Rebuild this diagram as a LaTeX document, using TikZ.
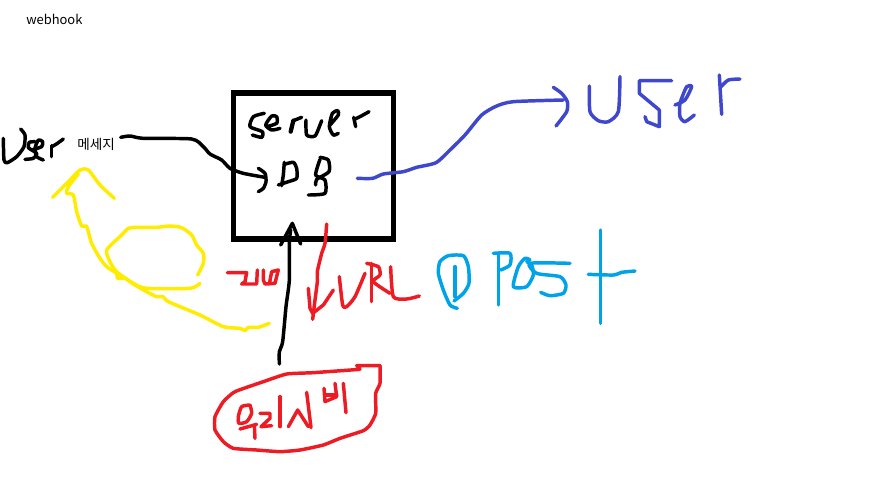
\documentclass[tikz,border=0pt]{standalone}
\usepackage{fontspec}
\newfontfamily\krfont{Noto Sans CJK KR}
\definecolor{inkred}{HTML}{ED1C24}
\definecolor{inkyellow}{HTML}{FFEC00}
\definecolor{inkblue}{HTML}{3F48CC}
\definecolor{inkcyan}{HTML}{00A2E8}
\newcommand{\inkstroke}[2]{\draw[#1] plot[smooth,tension=.4] coordinates {#2};}
\tikzset{
  zoomat/.style 2 args={x=.25pt,y=-.25pt,shift={({#1*.75pt},{-#2*.75pt})}},
  ink/.style={line width=2.6pt,line cap=round,line join=round},
  blackink/.style={ink,black},
  redink/.style={ink,inkred},
  yellowink/.style={ink,inkyellow},
  blueink/.style={ink,inkblue},
  cyanink/.style={ink,inkcyan},
  titlelabel/.style={font=\krfont\fontsize{9.7pt}{11pt}\selectfont,inner sep=0pt,text=black},
  msglabel/.style={font=\krfont\fontsize{10.2pt}{11pt}\selectfont,inner sep=0pt,text=black},
  serverbox/.style={draw=black,line width=4pt,inner sep=0pt,minimum width=119.7pt,minimum height=109.5pt},
}
\begin{document}
\begin{tikzpicture}[x=.75pt,y=-.75pt]
\useasboundingbox (0,0) rectangle (872,494);
\node[titlelabel,anchor=west] (title) at (26,19) {webhook};
\node[msglabel,anchor=west] (msg) at (77,144) {메세지};
\node[serverbox] (server) at (313.5,166) {};

% left handwritten word
\begin{scope}[zoomat={0}{125}]
\inkstroke{blackink}{(62,12) (75,30) (72,65) (50,95) (22,113) (12,105) (10,40)}
\inkstroke{blackink}{(105,50) (88,52) (85,68) (110,85) (100,100) (75,103)}
\inkstroke{blackink}{(95,75) (125,65) (128,50) (115,45) (105,70) (110,95) (130,105)}
\draw[blackink] (155,95)--(155,62);
\inkstroke{blackink}{(155,65) (168,58) (190,42)}
\end{scope}

\begin{scope}[zoomat={0}{80}]
\inkstroke{blackink}{(362,172) (390,168) (430,175) (575,177) (610,200) (630,222) (665,240) (690,265) (730,280) (795,292)}
\inkstroke{blackink}{(775,265) (795,280) (798,305) (790,325) (775,335)}
\inkstroke{yellowink}{(158,352) (205,305) (240,270) (265,270) (300,315) (343,355)}
\inkstroke{yellowink}{(235,282) (205,320) (200,340) (220,345) (230,395) (245,438) (260,440) (275,490) (300,535) (320,560) (350,580) (352,595) (375,595) (400,612) (440,635) (470,650) (490,650) (505,665) (600,705) (670,740) (720,745) (735,752) (745,742) (775,742) (808,730)}
\inkstroke{yellowink}{(593,585) (610,550) (610,520) (590,495) (575,465) (545,443) (510,438) (470,442) (410,442) (385,445) (365,465) (320,510) (330,545) (350,575) (400,610) (440,625) (570,625) (600,610)}
\draw[redink] (682,578)--(740,578)--(735,605)--(725,612)--(770,612)--(772,570);
\draw[redink] (790,570)--(790,600)--(795,612)--(825,610)--(835,570)--(815,575)--(808,612);
\end{scope}

% server text
\begin{scope}[zoomat={245}{100}]
\inkstroke{blackink}{(58,40) (25,50) (15,80) (52,95) (50,112) (22,105)}
\inkstroke{blackink}{(65,80) (95,70) (95,50) (80,48) (62,75) (80,90) (105,85)}
\draw[blackink,line width=3.2pt] (137,95)--(145,62);
\inkstroke{blackink}{(145,62) (170,52)}
\inkstroke{blackink}{(183,60) (185,105) (210,108) (225,75) (230,62)}
\inkstroke{blackink}{(255,75) (280,45) (278,32) (262,40) (253,80) (265,105) (280,100)}
\draw[blackink] (332,80)--(326,52);
\inkstroke{blackink}{(328,58) (345,50) (372,35)}
\draw[blackink] (118,187)--(115,225)--(110,257);
\inkstroke{blackink}{(118,193) (145,187) (155,205) (155,235) (130,245) (100,255)}
\inkstroke{blackink}{(225,172) (250,180) (252,215) (215,238) (212,255)}
\inkstroke{blackink}{(225,178) (212,225) (240,240) (240,280) (190,285)}
\end{scope}

% lower part
\begin{scope}[zoomat={200}{220}]
\inkstroke{blackink}{(238,432) (238,395) (248,365) (258,260) (268,180) (268,70) (272,30)}
\draw[blackink] (242,75)--(277,10)--(302,72);
\inkstroke{redink}{(380,12) (375,70) (365,100) (352,155) (352,185) (345,240) (338,298)}
\draw[redink] (325,205)--(330,265)--(338,280)--(370,255)--(400,210);
\inkstroke{redink}{(418,170) (428,255) (440,260) (465,230) (495,160)}
\draw[redink] (514,130)--(514,245);
\inkstroke{redink}{(500,130) (535,140) (540,165) (520,185) (570,220)}
\inkstroke{redink}{(572,140) (580,230) (620,237) (658,228)}
\draw[redink] (480,445)--(470,437)--(540,437);
\draw[redink] plot[smooth,tension=.3] coordinates {(540,437) (540,490) (527,520) (527,580) (510,615) (490,632) (420,655) (370,675) (300,690) (240,695) (170,690) (100,685) (70,665) (45,630) (45,590) (70,545) (105,515) (190,485) (260,462) (340,458) (480,448)};
\draw[redink] (372,505)--(375,545)--(410,530)--(405,490);
\draw[redink] (378,525)--(410,525);
\draw[redink] (430,490)--(438,578);
\end{scope}
\begin{scope}[zoomat={225}{385}]
\inkstroke{redink}{(75,60) (50,65) (40,95) (42,115) (65,110) (80,85) (75,60)}
\draw[redink] (45,132)--(95,118);
\draw[redink] (88,120)--(90,160);
\draw[redink] (105,85)--(135,85)--(135,100)--(108,125)--(140,122);
\draw[redink] (165,35)--(165,125);
\draw[redink] (190,125)--(218,75)--(250,125);
\draw[redink] (245,22)--(258,128);
\end{scope}

% blue
\begin{scope}[zoomat={350}{70}]
\inkstroke{blueink}{(22,325) (68,325) (100,312) (160,305) (200,292) (258,278) (300,240) (345,195) (395,135) (440,108) (490,95) (640,90)}
\inkstroke{blueink}{(610,52) (635,70) (652,95) (650,125) (618,168)}
\inkstroke{blueink}{(718,48) (720,125) (745,152) (775,155) (805,125) (810,20)}
\draw[blueink] (965,32)--(868,32)--(868,70)--(928,120)--(928,170)--(890,155)--(885,140);
\inkstroke{blueink}{(975,105) (1005,90) (1025,50) (1010,50) (990,100) (990,140) (1005,155) (1033,135)}
\draw[blueink] (1115,133)--(1108,15);
\inkstroke{blueink}{(1113,50) (1135,30) (1170,27)}
\end{scope}

% cyan
\begin{scope}[zoomat={430}{225}]
\inkstroke{cyanink}{(82,250) (60,240) (40,195) (25,145) (30,110) (55,92) (100,92) (115,125) (117,175) (100,205) (72,228)}
\draw[cyanink] (75,125)--(75,215);
\inkstroke{cyanink}{(190,85) (240,85) (240,120) (212,135)}
\draw[cyanink] (205,90)--(205,240);
\inkstroke{cyanink}{(300,105) (285,100) (265,125) (250,185) (290,185) (310,150) (305,120) (290,110)}
\inkstroke{cyanink}{(420,115) (300,115) (320,145) (390,155) (408,180) (400,205) (360,212) (332,202)}
\draw[cyanink] (512,15)--(512,295);
\inkstroke{cyanink}{(475,148) (550,150) (575,142) (615,138)}
\end{scope}
\end{tikzpicture}
\end{document}
